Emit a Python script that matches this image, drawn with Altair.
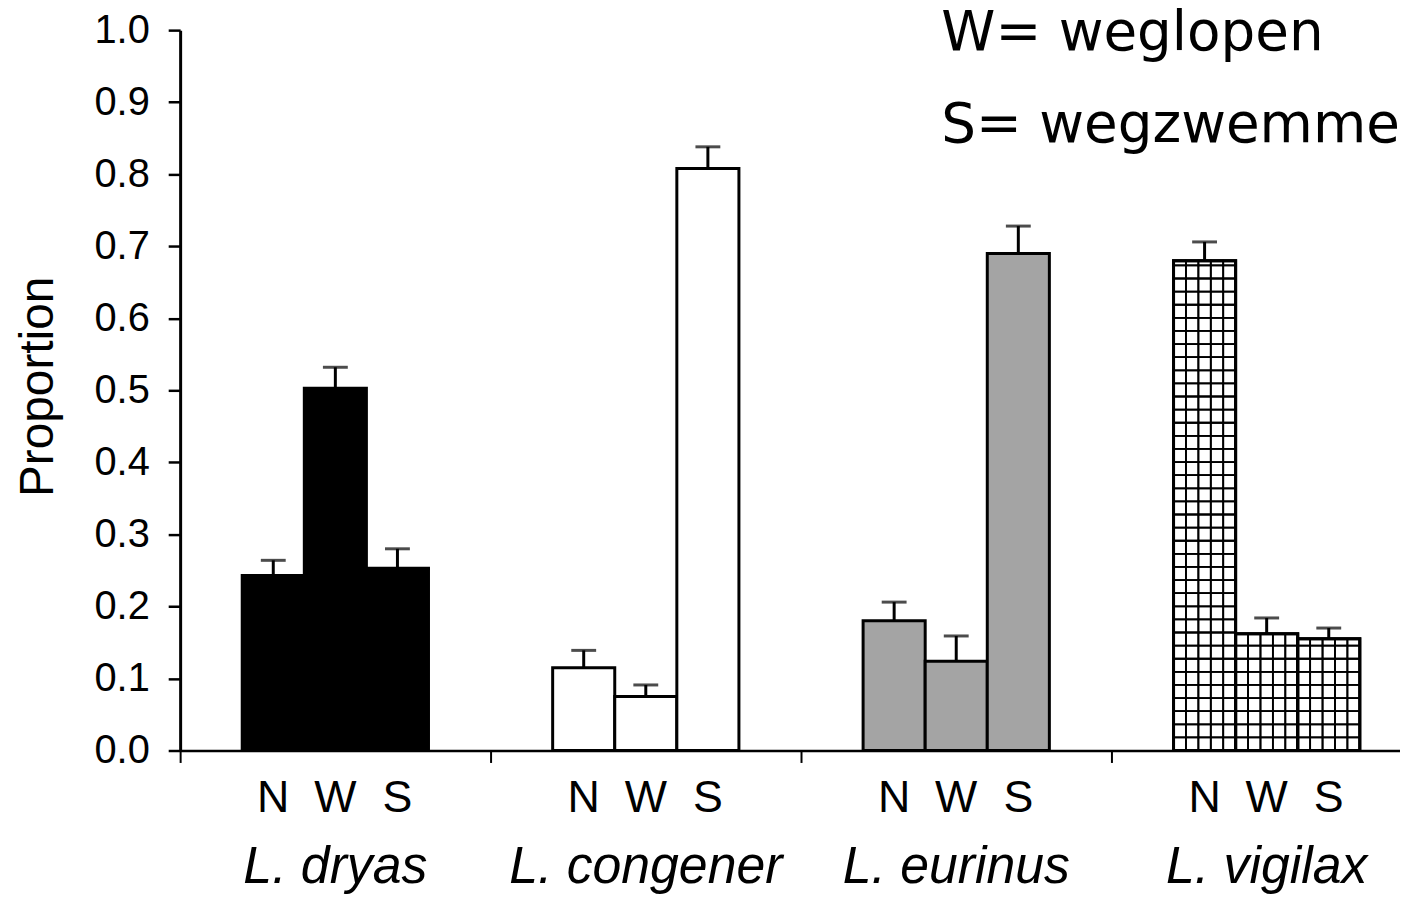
import math
import altair as alt
import pandas as pd

# ---- data ----
species = ["L. dryas", "L. congener", "L. eurinus", "L. vigilax"]
behaviours = ["N", "W", "S"]
mean_dryas = [0.243, 0.503, 0.253]
upper_dryas = [0.264, 0.532, 0.280]
mean_congener = [0.115, 0.075, 0.808]
upper_congener = [0.139, 0.091, 0.838]
mean_eurinus = [0.180, 0.124, 0.690]
upper_eurinus = [0.206, 0.159, 0.728]
mean_vigilax = [0.680, 0.162, 0.155]
upper_vigilax = [0.706, 0.184, 0.170]
fills = ["#000000", "#ffffff", "#a4a4a4", "#ffffff"]
legend_lines = ["W= weglopen", "S= wegzwemmen"]
y_ticks = [0.0, 0.1, 0.2, 0.3, 0.4, 0.5, 0.6, 0.7, 0.8, 0.9, 1.0]

means = [mean_dryas, mean_congener, mean_eurinus, mean_vigilax]
uppers = [upper_dryas, upper_congener, upper_eurinus, upper_vigilax]

rows = []
for sp, m, u, f in zip(species, means, uppers, fills):
    for b, mv, uv in zip(behaviours, m, u):
        rows.append({"species": sp, "behaviour": b, "mean": mv, "upper": uv, "fill": f})
df = pd.DataFrame(rows)

# cross-hatch pattern cells for L. vigilax bars (derived from its means)
cell = 0.0182
ncols = 5
slots = [f"{b}{k}" for b in behaviours for k in range(ncols)]
slot_domain = [f"padL{k}" for k in range(ncols)] + slots + [f"padR{k}" for k in range(ncols)]
grid_rows = []
for b, mv in zip(behaviours, mean_vigilax):
    n = math.ceil(mv / cell)
    for k in range(ncols):
        for r in range(n):
            grid_rows.append({"species": "L. vigilax", "slot": f"{b}{k}",
                              "y0": r * cell, "y1": min(mv, (r + 1) * cell)})
grid_df = pd.DataFrame(grid_rows)

FONT = "Liberation Sans"

xscale = alt.Scale(domain=species, paddingInner=0, paddingOuter=0, range=[0, 1248])
xaxis = alt.Axis(labels=False, title=None, tickBand="extent", tickSize=12, tickWidth=2,
                 tickColor="black", domainColor="black", domainWidth=2.5, grid=False)
yscale = alt.Scale(domain=[0, 1], nice=False, zero=True)
yaxis = alt.Axis(values=y_ticks, format=".1f", labelFont=FONT, labelFontSize=40,
                 labelColor="black", tickSize=12, tickWidth=2.5, tickColor="black",
                 domainColor="black", domainWidth=3, grid=False, labelPadding=19,
                 titleFont=FONT, titleFontSize=48, titleFontWeight="normal",
                 titleColor="black", titleX=-118, titleY=358)

X = alt.X("species:N", scale=xscale, axis=xaxis, title=None)
XO = alt.XOffset("behaviour:N", scale=alt.Scale(type="band", domain=behaviours,
                                                paddingInner=0, paddingOuter=1))


def Y(field):
    return alt.Y(field, scale=yscale, axis=yaxis, title="Proportion")


base = alt.Chart(df)

bars = base.mark_bar(stroke="black", strokeWidth=3).encode(
    x=X, xOffset=XO, y=Y("mean:Q"), fill=alt.Fill("fill:N", scale=None)
)

grid = alt.Chart(grid_df).mark_bar(filled=False, stroke="black", strokeWidth=1.8).encode(
    x=X,
    xOffset=alt.XOffset("slot:N", scale=alt.Scale(type="band", domain=slot_domain,
                                                  paddingInner=0, paddingOuter=0)),
    y=Y("y0:Q"),
    y2="y1:Q",
)

outline = base.transform_filter(alt.datum.species == "L. vigilax").mark_bar(
    filled=False, stroke="black", strokeWidth=3
).encode(x=X, xOffset=XO, y=Y("mean:Q"))

err = base.mark_rule(color="black", strokeWidth=3).encode(
    x=X, xOffset=XO, y=Y("mean:Q"), y2="upper:Q"
)
cap = base.mark_tick(color="black", thickness=3, size=25).encode(
    x=X, xOffset=XO, y=Y("upper:Q")
)

beh_labels = base.mark_text(font=FONT, fontSize=45, baseline="alphabetic", color="black").encode(
    x=X, xOffset=XO, y=alt.value(786), text="behaviour:N"
)

sp_df = pd.DataFrame({"species": species})
sp_labels = alt.Chart(sp_df).mark_text(
    font=FONT, fontSize=52, fontStyle="italic", baseline="alphabetic", color="black"
).encode(x=X, y=alt.value(857), text="species:N")

ann1 = alt.Chart(pd.DataFrame({"t": [legend_lines[0]]})).mark_text(
    font="DejaVu Sans", fontSize=55, align="left", baseline="alphabetic", color="black"
).encode(x=alt.value(765), y=alt.value(20), text="t:N")
ann2 = alt.Chart(pd.DataFrame({"t": [legend_lines[1]]})).mark_text(
    font="DejaVu Sans", fontSize=55, align="left", baseline="alphabetic", color="black"
).encode(x=alt.value(765), y=alt.value(112), text="t:N")

chart = alt.layer(bars, grid, outline, err, cap, beh_labels, sp_labels, ann1, ann2).resolve_scale(
    xOffset="independent"
).properties(
    width=1226, height=724,
    autosize=alt.AutoSizeParams(type="none"),
    padding={"left": 173, "top": 20, "right": 0, "bottom": 148},
    background="white",
).configure_view(stroke=None)

chart.save("out.html", embed_options={"renderer": "svg", "actions": False})
